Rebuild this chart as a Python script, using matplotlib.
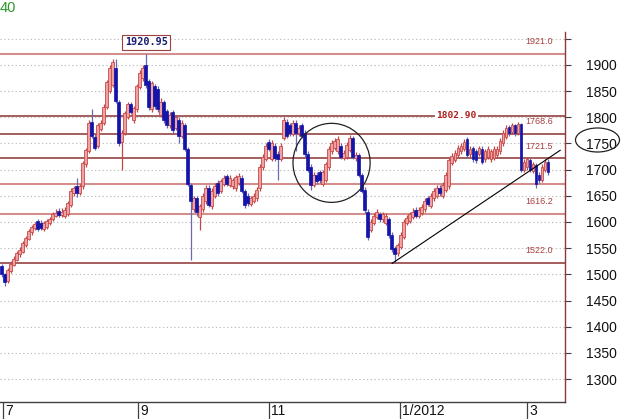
import matplotlib
matplotlib.use('Agg')
import matplotlib.pyplot as plt
from matplotlib.patches import Ellipse
import matplotlib.transforms as mtrans
import numpy as np

plt.rcParams['font.family'] = ['Liberation Sans', 'DejaVu Sans']

# ---- data (gold daily OHLC, Jul 2011 - Mar 2012) ----
opens = [1515,1500,1488,1506,1518,1528,1538,1543,1556,1568,1580,1588,1602,1598,1586,1590,1598,1605,1612,1621,
         1614,1612,1615,1632,1655,1668,1656,1668,1710,1735,1792,1762,1745,1778,1790,1820,1850,1862,1895,1830,
         1752,1770,1800,1825,1795,1815,1858,1875,1900,1870,1815,1860,1855,1805,1830,1812,1785,1810,1780,1795,
         1765,1785,1740,1670,1625,1645,1610,1625,1640,1665,1630,1650,1675,1660,1672,1688,1670,1668,1665,1675,
         1685,1660,1650,1635,1640,1645,1665,1705,1720,1752,1720,1745,1730,1720,1760,1792,1785,1768,1790,1770,
         1785,1770,1730,1705,1670,1690,1695,1672,1680,1705,1735,1742,1735,1745,1722,1725,1738,1760,1722,1728,
         1690,1662,1620,1585,1598,1610,1615,1605,1598,1605,1575,1550,1540,1552,1572,1598,1602,1610,1622,1612,
         1618,1625,1645,1630,1645,1650,1665,1650,1662,1668,1712,1718,1728,1735,1740,1758,1730,1742,1735,1730,
         1740,1720,1725,1720,1722,1728,1735,1750,1762,1782,1772,1785,1770,1788,1700,1705,1718,1698,1708,1690,
         1680,1700,1715]
closes = [1500,1485,1508,1520,1530,1540,1546,1560,1570,1582,1590,1596,1586,1588,1598,1601,1606,1615,1618,1614,
          1620,1622,1636,1660,1665,1655,1668,1712,1738,1790,1765,1742,1785,1790,1820,1868,1895,1905,1832,1750,
          1770,1808,1825,1810,1818,1860,1885,1895,1862,1820,1865,1822,1815,1830,1795,1785,1805,1775,1800,1765,
          1790,1740,1672,1640,1645,1620,1630,1650,1665,1632,1660,1668,1656,1678,1685,1672,1685,1680,1686,1688,
          1660,1632,1636,1645,1650,1662,1705,1725,1745,1740,1750,1722,1720,1745,1795,1765,1770,1790,1770,1780,
          1765,1730,1700,1670,1690,1678,1680,1695,1710,1740,1750,1755,1758,1725,1732,1748,1760,1725,1728,1690,
          1660,1622,1572,1600,1612,1620,1605,1615,1612,1575,1548,1538,1556,1576,1600,1608,1616,1620,1612,1622,
          1628,1640,1635,1650,1660,1665,1655,1670,1690,1718,1726,1732,1742,1745,1752,1728,1740,1720,1718,1742,
          1715,1735,1740,1735,1740,1740,1755,1770,1780,1770,1785,1770,1788,1700,1715,1720,1700,1710,1672,1680,
          1705,1715,1695]
highs = [1520,1503,1512,1526,1535,1544,1552,1564,1574,1586,1594,1600,1606,1604,1602,1605,1610,1619,1624,1626,
         1626,1628,1640,1665,1668,1685,1672,1716,1742,1794,1816,1768,1789,1795,1826,1872,1900,1912,1911,1834,
         1776,1812,1830,1830,1822,1864,1890,1900,1920.95,1874,1870,1864,1860,1836,1834,1816,1810,1814,1804,1800,
         1795,1790,1744,1675,1650,1650,1635,1655,1670,1670,1665,1674,1680,1682,1690,1692,1690,1685,1690,1694,
         1690,1664,1655,1650,1656,1667,1710,1730,1750,1758,1756,1750,1735,1750,1800,1796,1790,1795,1795,1785,
         1790,1775,1735,1710,1695,1695,1700,1700,1715,1745,1756,1760,1764,1750,1738,1752,1766,1764,1734,1732,
         1694,1666,1624,1606,1618,1625,1620,1620,1617,1610,1580,1554,1560,1580,1605,1614,1620,1626,1628,1628,
         1634,1646,1650,1655,1665,1670,1670,1676,1695,1722,1732,1738,1748,1750,1758,1762,1745,1746,1740,1746,
         1745,1740,1745,1740,1745,1745,1760,1775,1785,1786,1790,1788,1791,1790,1720,1725,1722,1715,1712,1695,
         1710,1720,1720]
lows = [1495,1478,1484,1503,1515,1525,1534,1540,1552,1565,1576,1584,1582,1584,1582,1587,1594,1601,1609,1610,
        1610,1608,1612,1628,1650,1648,1652,1664,1706,1732,1760,1738,1741,1774,1786,1816,1846,1858,1828,1746,
        1700,1766,1796,1806,1790,1810,1854,1870,1856,1814,1810,1816,1810,1800,1790,1780,1780,1770,1776,1750,
        1760,1735,1668,1528,1620,1612,1585,1620,1635,1628,1625,1646,1650,1655,1668,1668,1666,1664,1660,1670,
        1655,1626,1630,1630,1636,1640,1660,1700,1716,1735,1716,1716,1680,1716,1756,1760,1765,1764,1735,1765,
        1760,1725,1695,1662,1666,1672,1675,1668,1676,1700,1730,1738,1730,1720,1718,1720,1734,1720,1716,1686,
        1655,1618,1565,1580,1594,1606,1600,1600,1594,1570,1543,1521,1535,1548,1568,1594,1598,1606,1608,1608,
        1614,1620,1630,1626,1640,1646,1650,1646,1658,1664,1708,1714,1724,1730,1736,1722,1725,1714,1712,1726,
        1710,1715,1720,1714,1718,1724,1730,1745,1758,1765,1768,1765,1766,1695,1695,1700,1695,1694,1665,1675,
        1676,1695,1690]

month_ticks = [0.5, 45.5, 89.2, 132.8, 175.2]
month_labels = ['7', '9', '11', '1/2012', '3']

levels_dark = [1802.9, 1768.6, 1721.5, 1522.0]
levels_light = [1921.0, 1672.0, 1616.2]
level_labels = [(1921.0, '1921.0'), (1768.6, '1768.6'), (1721.5, '1721.5'),
                (1616.2, '1616.2'), (1522.0, '1522.0')]
peak_value = 1920.95
resist_value = 1802.90
trend_x = [130.2, 186.2]
trend_y = [1521.0, 1737.0]
circle_center = (110.0, 1713.0)
y_ticks = [1300, 1350, 1400, 1450, 1500, 1550, 1600, 1650, 1700, 1750, 1800, 1850, 1900, 1950]

# ---- figure ----
W, H = 625, 419
fig = plt.figure(figsize=(W / 100, H / 100), dpi=100)
ax = fig.add_axes([0, 17 / H, 565 / W, (402 - 32) / H])
ax.set_xlim(-0.5, 187.8)
ax.set_ylim(1256.1, 1963.0)

for s in ['left', 'top']:
    ax.spines[s].set_visible(False)
ax.spines['right'].set_color('#8a3a3a')
ax.spines['right'].set_linewidth(1.0)
ax.spines['bottom'].set_color('#404040')
ax.spines['bottom'].set_linewidth(1.0)

# grid
ax.set_yticks(y_ticks)
ax.set_yticklabels([str(v) if v < 1950 else '' for v in y_ticks])
ax.yaxis.tick_right()
ax.tick_params(axis='y', direction='out', length=4, width=0.8, color='#404040',
               labelsize=10, pad=11, labelcolor='#111111')
ax.yaxis.grid(True, linestyle=(0, (1.2, 2.2)), color='#bdbdbd', linewidth=0.8)
ax.set_axisbelow(True)

# x ticks
ax.set_xticks(month_ticks)
ax.set_xticklabels([])
ax.tick_params(axis='x', direction='out', length=12.5, width=0.9, color='#404040')
for xt, lab in zip(month_ticks, month_labels):
    ax.text(xt, 0, lab, transform=ax.get_xaxis_transform() +
            mtrans.ScaledTranslation(2 / 100, -2 / 100, fig.dpi_scale_trans),
            ha='left', va='top', fontsize=10, color='#111111', clip_on=False)

# level lines
for lv in levels_dark:
    ax.axhline(lv, color='#8b3232', linewidth=1.1, zorder=1)
for lv in levels_light:
    ax.axhline(lv, color='#d48e8e', linewidth=1.5, zorder=1)

# candles
x = np.arange(len(opens))
o = np.array(opens, float); c = np.array(closes, float)
hi = np.array(highs, float); lo = np.array(lows, float)
up = c >= o
ax.vlines(x[up], lo[up], hi[up], color='#c04848', linewidth=0.9, zorder=3)
ax.vlines(x[~up], lo[~up], hi[~up], color='#6a6ab4', linewidth=0.9, zorder=3)
ax.bar(x[up], (c - o)[up], bottom=o[up], width=0.72, color='#eea2a2',
       edgecolor='#c84a4a', linewidth=0.6, zorder=4)
ax.bar(x[~up], (o - c)[~up], bottom=c[~up], width=0.72, color='#1414a8',
       edgecolor='#1414a8', linewidth=0.5, zorder=4)

# trend line
ax.plot(trend_x, trend_y, color='black', linewidth=0.8, zorder=5)

# circle
ax.add_patch(Ellipse(circle_center, 25.7, 151, fill=False, edgecolor='#222222',
                     linewidth=0.9, zorder=6))

# level labels
for lv, lab in level_labels:
    ax.text(174.5, lv + 23, lab, ha='left', va='center', fontsize=6.5,
            color='#a84040', zorder=6)

# resistance label on line
ax.text(151.5, resist_value, '%.2f' % resist_value, ha='center', va='center',
        fontsize=6.8, fontweight='bold', family='DejaVu Sans Mono', color='#b01c1c',
        bbox=dict(facecolor='white', edgecolor='none', pad=1.0), zorder=6)

# peak label
ax.text(48.2, 1943, '%.2f' % peak_value, ha='center', va='center', fontsize=7.3,
        fontweight='bold', family='DejaVu Sans Mono', color='#1a1a70',
        bbox=dict(facecolor='white', edgecolor='#a04040', pad=1.6, linewidth=0.8),
        zorder=6, clip_on=False)

# circled 1750 on axis
fig.patches.append(Ellipse((597.5 / W, 1 - 140 / H), 44 / W, 24 / H, fill=False,
                           edgecolor='#222222', linewidth=0.9, transform=fig.transFigure))

# cut-off green header text
fig.text(0.0, 1 - 1.5 / H, '40', color='#2a9a2a', fontsize=10.5, ha='left', va='top')

fig.savefig('out.png', dpi=100)
